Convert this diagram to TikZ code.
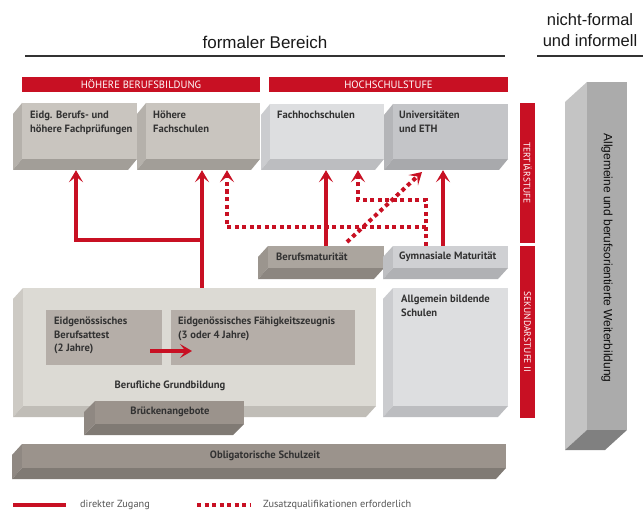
\documentclass[tikz,border=0pt]{standalone}
\usepackage{fontspec}
\setmainfont{Liberation Sans}
\newfontfamily\pts{PT Sans}
\usetikzlibrary{arrows.meta,fit}
\definecolor{zred}{RGB}{200,16,35}
\definecolor{txt}{RGB}{50,50,50}
\definecolor{legcol}{RGB}{85,85,85}
\definecolor{warmF}{RGB}{201,197,191}\definecolor{warmL}{RGB}{181,177,171}\definecolor{warmB}{RGB}{162,158,152}
\definecolor{coolF}{RGB}{221,222,224}\definecolor{coolL}{RGB}{203,204,207}\definecolor{coolB}{RGB}{188,189,192}
\definecolor{uniF}{RGB}{196,197,200}\definecolor{uniL}{RGB}{180,181,184}\definecolor{uniB}{RGB}{168,169,172}
\definecolor{bmF}{RGB}{171,165,158}\definecolor{bmL}{RGB}{155,149,142}\definecolor{bmB}{RGB}{140,134,128}
\definecolor{gmF}{RGB}{207,208,211}\definecolor{gmL}{RGB}{190,191,194}\definecolor{gmB}{RGB}{176,177,180}
\definecolor{paleF}{RGB}{220,218,212}\definecolor{paleL}{RGB}{205,202,196}\definecolor{paleB}{RGB}{192,189,183}
\definecolor{darkF}{RGB}{155,147,140}\definecolor{darkL}{RGB}{143,136,130}\definecolor{darkB}{RGB}{128,122,116}
\definecolor{wbF}{RGB}{171,171,171}\definecolor{wbL}{RGB}{196,196,196}\definecolor{wbB}{RGB}{128,128,128}
\definecolor{inner}{RGB}{181,174,168}
\newcommand\cuboid[8]{%
  \fill[#8L] (#2,#3) -- ({#2+#6},{#3+#7}) -- ({#2+#6},{#5+#7}) -- (#2,#5) -- cycle;
  \fill[#8B] (#2,#5) -- (#4,#5) -- ({#4+#6},{#5+#7}) -- ({#2+#6},{#5+#7}) -- cycle;
  \fill[#8F] (#2,#3) rectangle (#4,#5);
  \node[fit={({#2+#6},#3) (#4,{#5+#7})},inner sep=0pt] (#1) {};
  \node[fit={(#2,#3) (#4,#5)},inner sep=0pt] (#1f) {};
}
\tikzset{
  direct/.style={line width=4pt, draw=zred, -{Stealth[length=12pt,width=14pt,inset=5.5pt]}},
  zus/.style={direct, dash pattern=on 4pt off 3.5pt},
  boxtxt/.style={font=\pts\bfseries\fontsize{10.6}{14}\selectfont, text=txt, align=left, inner sep=0pt},
  redbar/.style={fill=zred, text=white, inner sep=0pt, font=\pts\fontsize{10.6}{12}\selectfont},
  legtxt/.style={font=\pts\fontsize{10.3}{12}\selectfont, text=legcol, anchor=west, inner sep=0pt},
  headline/.style={line width=1.3pt, draw=black!80},
}
\begin{document}
\begin{tikzpicture}[x=1pt,y=-1pt]
\useasboundingbox (0,0) rectangle (643,516);
\fill[white] (0,0) rectangle (643,516);
% headers
\node[font=\fontsize{17}{20}\selectfont, text=black!90] (formal) at (265,42) {formaler Bereich};
\node[font=\fontsize{16.5}{21}\selectfont, text=black!90, align=center] (nonformal) at (590,30.5) {nicht-formal\\und informell};
\draw[headline] (25,56) -- (505,56);
\draw[headline] (537,56) -- (643,56);
\node[redbar, minimum width=238pt, minimum height=15pt] (hbb) at (141,84.5) {HÖHERE BERUFSBILDUNG};
\node[redbar, minimum width=239pt, minimum height=15pt] (hss) at (388.5,84.5) {HOCHSCHULSTUFE};
\node[redbar, rotate=-90, minimum width=140pt, minimum height=15pt, font=\pts\fontsize{9.5}{11}\selectfont] (tert) at (527.5,173) {TERTIÄRSTUFE};
\node[redbar, rotate=-90, minimum width=172pt, minimum height=15pt, font=\pts\fontsize{9.5}{11}\selectfont] (sek) at (527.5,332) {SEKUNDARSTUFE II};
% weiterbildung
\cuboid{wb}{587}{82}{627}{430}{-22}{20}{wb}
\node[rotate=-90, font=\fontsize{12}{14}\selectfont, text=black!95] (wbt) at (607,258) {Allgemeine und berufsorientierte Weiterbildung};
% secondary
\cuboid{bg}{23}{288}{376}{406}{-10}{11}{pale}
\cuboid{allg}{393}{288}{508}{406}{-10}{11}{cool}
\node[fill=inner, fit={(46,310) (162,365)}, inner sep=0pt] (ba) {};
\node[fill=inner, fit={(171,310) (355,365)}, inner sep=0pt] (fz) {};
\node[boxtxt, anchor=north west, font=\pts\bfseries\fontsize{10.6}{13.5}\selectfont] (bat) at (54,317) {Eidgenössisches\\Berufsattest\\(2 Jahre)};
\node[boxtxt, anchor=north west, font=\pts\bfseries\fontsize{10.6}{13.5}\selectfont] (fzt) at (178,317) {Eidgenössisches Fähigkeitszeugnis\\(3 oder 4 Jahre)};
\coordinate (ia) at (150,351);
\coordinate (ib) at (192,351);
\draw[direct] (ia) -- (ib);
\node[boxtxt] (bgt) at (170,386) {Berufliche Grundbildung};
\node[boxtxt, anchor=north west] (allgt) at (401,295) {Allgemein bildende\\Schulen};
\cuboid{br}{95}{401}{244}{424}{-11}{11}{dark}
\node[boxtxt] (brt) at (170,412) {Brückenangebote};
\cuboid{obl}{22}{444}{506}{468}{-10}{11}{dark}
\node[boxtxt] (oblt) at (265,456) {Obligatorische Schulzeit};
% tertiary
\cuboid{eidg}{22}{103}{137}{159}{-9}{11}{warm}
\cuboid{hf}{146}{103}{260}{159}{-9}{11}{warm}
\cuboid{fh}{270}{104}{384}{159}{-9}{11}{cool}
\cuboid{uni}{393}{104}{508}{159}{-9}{11}{uni}
\cuboid{bm}{268}{246}{384}{268}{-10}{11}{bm}
\cuboid{gm}{393}{246}{508}{268}{-10}{11}{gm}
\node[boxtxt, anchor=north west] (eidgt) at (30,111) {Eidg. Berufs- und\\höhere Fachprüfungen};
\node[boxtxt, anchor=north west] (hft) at (153,111) {Höhere\\Fachschulen};
\node[boxtxt, anchor=north west] (fht) at (277,111) {Fachhochschulen};
\node[boxtxt, anchor=north west] (unit) at (399,111) {Universitäten\\und ETH};
\node[boxtxt, anchor=west] (bmt) at (276,257) {Berufsmaturität};
\node[boxtxt, anchor=west] (gmt) at (399,257) {Gymnasiale Maturität};
% arrows
\coordinate (j1) at (202,240);
\draw[direct] (202,0 |- bgf.north) -- (202,0 |- hf.south);
\draw[direct] (j1) -- (76,240) -- (76,0 |- eidg.south);
\draw[direct] (326,0 |- bmf.north) -- (326,0 |- fh.south);
\draw[direct] (443,0 |- gmf.north) -- (443,0 |- uni.south);
\coordinate (j2) at (426,227);
\coordinate (j3) at (426,200);
\draw[zus] (426,0 |- gmf.north) -- (j3) -- (358,200) -- (358,0 |- fh.south);
\draw[zus] (j2) -- (227,227) -- (227,0 |- hf.south);
\coordinate (d0) at (347,242);
\coordinate (d1) at (422,172);
\draw[zus] (d0) -- (d1);
% legend
\coordinate (l1a) at (13,505); \coordinate (l1b) at (66,505);
\coordinate (l2a) at (197,505); \coordinate (l2b) at (251,505);
\draw[direct,-] (l1a) -- (l1b);
\node[legtxt] (lt1) at (80,505) {direkter Zugang};
\draw[zus,-] (l2a) -- (l2b);
\node[legtxt] (lt2) at (263,505) {Zusatzqualifikationen erforderlich};
\end{tikzpicture}
\end{document}
